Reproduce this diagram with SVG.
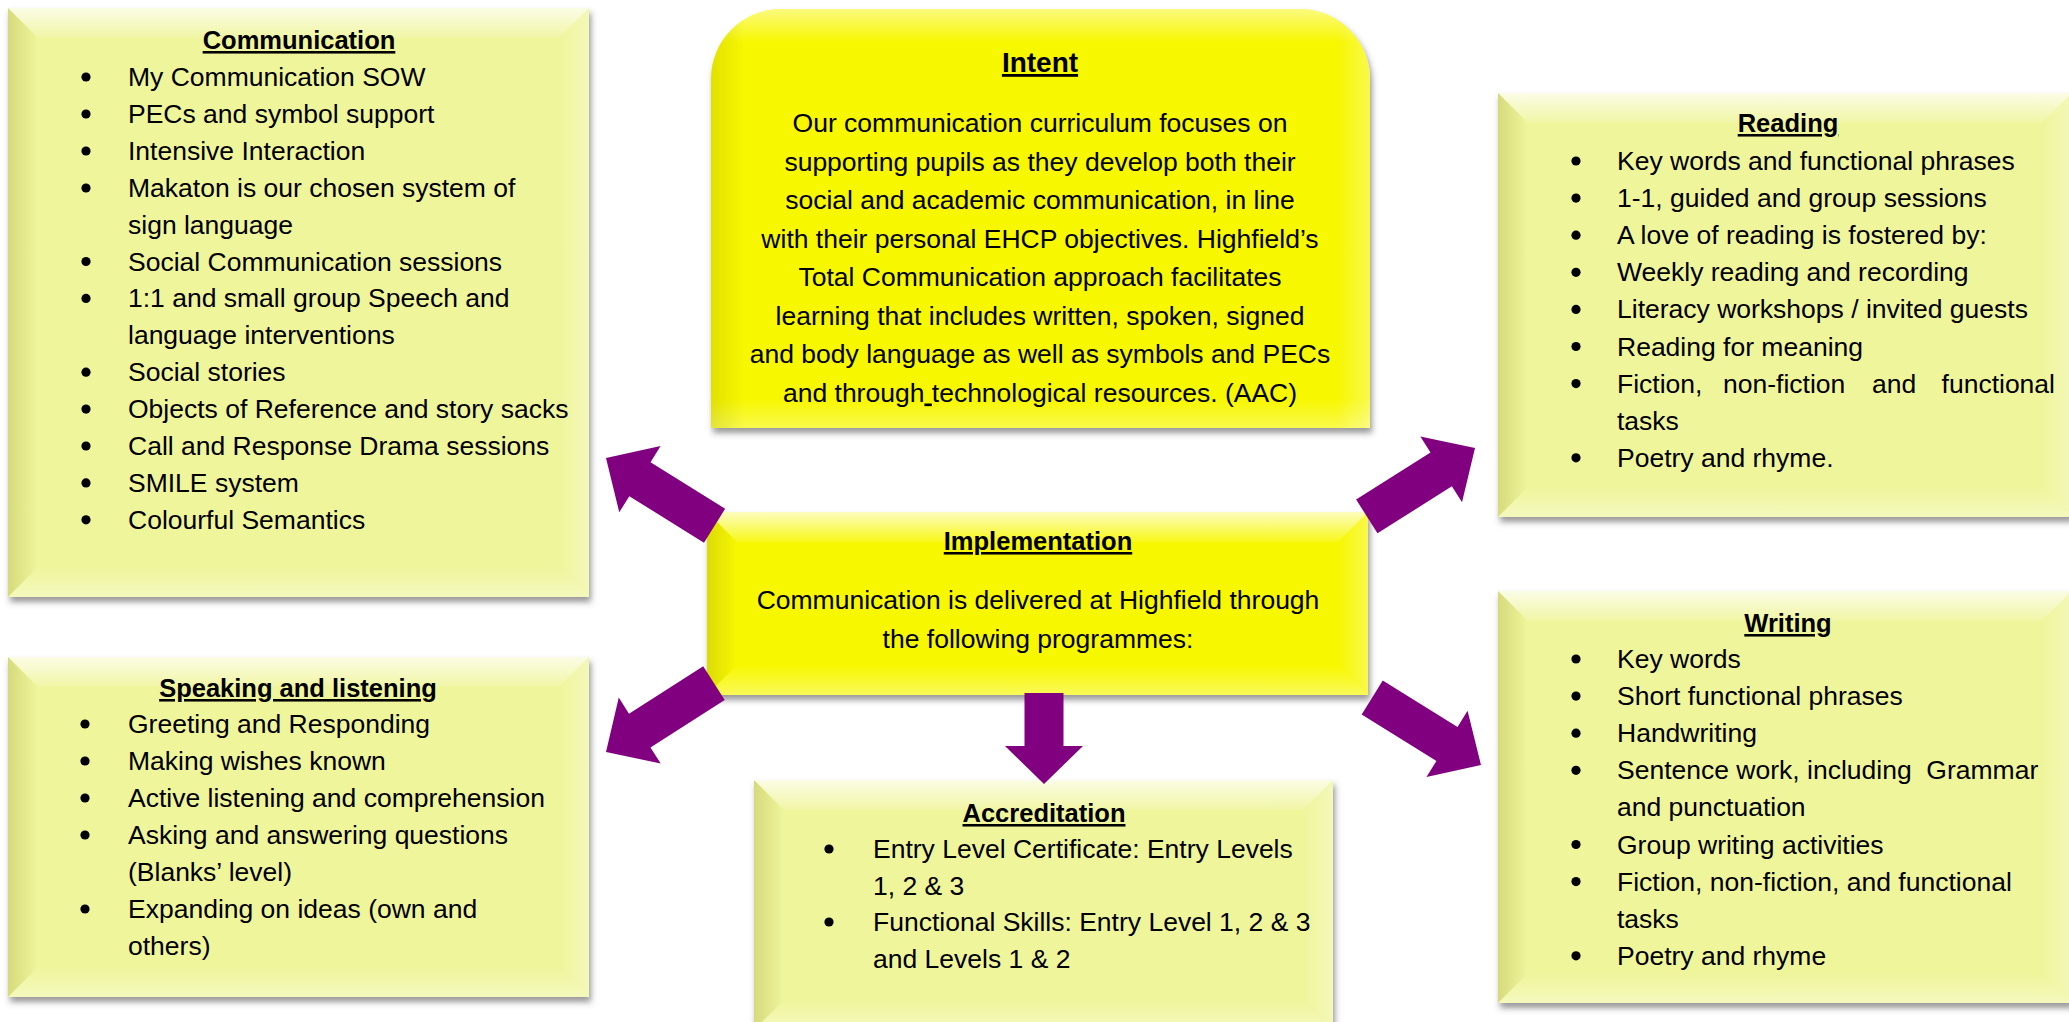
<svg xmlns="http://www.w3.org/2000/svg" width="2069" height="1022" viewBox="0 0 2069 1022">
<defs>
<style>
.t{font-family:"Liberation Sans",Arial,sans-serif;font-size:26.5px;fill:#000}
.h{font-weight:bold;font-size:25.5px;text-decoration:underline;text-anchor:middle}
.c{text-anchor:middle}
.dot{fill:#000}
.pale{fill:#eff59b}
.bright{fill:#f7f700}
.bt{fill:url(#gTop)}
.bl{fill:url(#gLeft)}
.bb{fill:url(#gBottom)}
.br{fill:url(#gRight)}
.arrow{fill:#800080}
</style>
<filter id="sh" x="-5%" y="-5%" width="110%" height="115%">
<feDropShadow dx="2" dy="5" stdDeviation="3" flood-color="#444" flood-opacity="0.55"/>
</filter>
<linearGradient id="gTop" x1="0" y1="0" x2="0" y2="1"><stop offset="0" stop-color="#fff" stop-opacity="0.75"/><stop offset="1" stop-color="#fff" stop-opacity="0.1"/></linearGradient>
<linearGradient id="gLeft" x1="0" y1="0" x2="1" y2="0"><stop offset="0" stop-color="#8a8a20" stop-opacity="0.25"/><stop offset="1" stop-color="#8a8a20" stop-opacity="0"/></linearGradient>
<linearGradient id="gBottom" x1="0" y1="1" x2="0" y2="0"><stop offset="0" stop-color="#fff" stop-opacity="0.35"/><stop offset="1" stop-color="#fff" stop-opacity="0"/></linearGradient>
<linearGradient id="gRight" x1="1" y1="0" x2="0" y2="0"><stop offset="0" stop-color="#fff" stop-opacity="0.3"/><stop offset="1" stop-color="#fff" stop-opacity="0"/></linearGradient>
<linearGradient id="gIntTop" x1="0" y1="0" x2="0" y2="1"><stop offset="0" stop-color="#fff" stop-opacity="0.5"/><stop offset="0.08" stop-color="#fff" stop-opacity="0"/><stop offset="0.93" stop-color="#fff" stop-opacity="0"/><stop offset="1" stop-color="#fff" stop-opacity="0.3"/></linearGradient>
<linearGradient id="gIntSide" x1="0" y1="0" x2="1" y2="0"><stop offset="0" stop-color="#8a8a00" stop-opacity="0.2"/><stop offset="0.05" stop-color="#8a8a00" stop-opacity="0"/><stop offset="0.95" stop-color="#fff" stop-opacity="0"/><stop offset="1" stop-color="#fff" stop-opacity="0.3"/></linearGradient>
<polygon id="diag" points="0,0 -40,-39 -40,-20 -128,-20 -128,20 -40,20 -40,39"/>
</defs>
<rect width="2069" height="1022" fill="#fff"/>

<g id="communication">
<rect class="pale" x="8" y="8" width="581" height="589" filter="url(#sh)"/>
<polygon class="bt" points="8,8 589,8 559,38 38,38"/>
<polygon class="bl" points="8,8 38,38 38,567 8,597"/>
<polygon class="bb" points="8,597 38,567 559,567 589,597"/>
<polygon class="br" points="589,8 589,597 559,567 559,38"/>
<g class="dot">
<circle cx="86" cy="77" r="4.6"/><circle cx="86" cy="114" r="4.6"/><circle cx="86" cy="151" r="4.6"/><circle cx="86" cy="188" r="4.6"/>
<circle cx="86" cy="261.5" r="4.6"/><circle cx="86" cy="298.4" r="4.6"/><circle cx="86" cy="372.2" r="4.6"/><circle cx="86" cy="409.1" r="4.6"/>
<circle cx="86" cy="446" r="4.6"/><circle cx="86" cy="482.9" r="4.6"/><circle cx="86" cy="519.8" r="4.6"/>
</g>
<g class="t">
<text class="h" x="299" y="49">Communication</text>
<text x="128" y="86">My Communication SOW</text>
<text x="128" y="123">PECs and symbol support</text>
<text x="128" y="160">Intensive Interaction</text>
<text x="128" y="197">Makaton is our chosen system of</text>
<text x="128" y="233.6">sign language</text>
<text x="128" y="270.5">Social Communication sessions</text>
<text x="128" y="307.4">1:1 and small group Speech and</text>
<text x="128" y="344.3">language interventions</text>
<text x="128" y="381.2">Social stories</text>
<text x="128" y="418.1">Objects of Reference and story sacks</text>
<text x="128" y="455">Call and Response Drama sessions</text>
<text x="128" y="491.9">SMILE system</text>
<text x="128" y="528.8">Colourful Semantics</text>
</g>
</g>

<g id="intent">
<path class="bright" d="M711,428 L711,79 A70,70 0 0 1 781,9 L1300,9 A70,70 0 0 1 1370,79 L1370,428 Z" filter="url(#sh)"/>
<path fill="url(#gIntTop)" d="M711,428 L711,79 A70,70 0 0 1 781,9 L1300,9 A70,70 0 0 1 1370,79 L1370,428 Z"/>
<path fill="url(#gIntSide)" d="M711,428 L711,79 A70,70 0 0 1 781,9 L1300,9 A70,70 0 0 1 1370,79 L1370,428 Z"/>
<g class="t c">
<text class="h" x="1040" y="72" style="font-size:28px">Intent</text>
<text x="1040" y="132">Our communication curriculum focuses on</text>
<text x="1040" y="170.5">supporting pupils as they develop both their</text>
<text x="1040" y="209">social and academic communication, in line</text>
<text x="1040" y="247.5">with their personal EHCP objectives. Highfield’s</text>
<text x="1040" y="286">Total Communication approach facilitates</text>
<text x="1040" y="324.5">learning that includes written, spoken, signed</text>
<text x="1040" y="363">and body language as well as symbols and PECs</text>
<text x="1040" y="401.5">and through<tspan text-decoration="underline"> </tspan>technological resources. (AAC)</text>
</g>
</g>

<g id="reading">
<rect class="pale" x="1498" y="93" width="574" height="424" filter="url(#sh)"/>
<polygon class="bt" points="1498,93 2072,93 2042,123 1528,123"/>
<polygon class="bl" points="1498,93 1528,123 1528,487 1498,517"/>
<polygon class="bb" points="1498,517 1528,487 2042,487 2072,517"/>
<polygon class="br" points="2072,93 2072,517 2042,487 2042,123"/>
<g class="dot">
<circle cx="1576" cy="161" r="4.6"/><circle cx="1576" cy="198.1" r="4.6"/><circle cx="1576" cy="235.2" r="4.6"/><circle cx="1576" cy="272.3" r="4.6"/>
<circle cx="1576" cy="309.4" r="4.6"/><circle cx="1576" cy="346.5" r="4.6"/><circle cx="1576" cy="383.6" r="4.6"/><circle cx="1576" cy="457.8" r="4.6"/>
</g>
<g class="t">
<text class="h" x="1788" y="132">Reading</text>
<text x="1617" y="170">Key words and functional phrases</text>
<text x="1617" y="207.1">1-1, guided and group sessions</text>
<text x="1617" y="244.2">A love of reading is fostered by:</text>
<text x="1617" y="281.3">Weekly reading and recording</text>
<text x="1617" y="318.4">Literacy workshops / invited guests</text>
<text x="1617" y="355.5">Reading for meaning</text>
<text x="1617" y="392.6">Fiction,</text><text x="1723" y="392.6">non-fiction</text><text x="1872" y="392.6">and</text><text x="2055" y="392.6" text-anchor="end">functional</text>
<text x="1617" y="429.7">tasks</text>
<text x="1617" y="466.8">Poetry and rhyme.</text>
</g>
</g>

<g id="implementation">
<rect class="bright" x="707" y="512" width="661" height="183" filter="url(#sh)"/>
<polygon class="bt" points="707,512 1368,512 1338,542 737,542"/>
<polygon class="bl" points="707,512 737,542 737,665 707,695"/>
<polygon class="bb" points="707,695 737,665 1338,665 1368,695"/>
<polygon class="br" points="1368,512 1368,695 1338,665 1338,542"/>
<g class="t c">
<text class="h" x="1038" y="550">Implementation</text>
<text x="1038" y="609">Communication is delivered at Highfield through</text>
<text x="1038" y="648">the following programmes:</text>
</g>
</g>

<g id="speaking-listening">
<rect class="pale" x="8" y="657" width="581" height="340" filter="url(#sh)"/>
<polygon class="bt" points="8,657 589,657 559,687 38,687"/>
<polygon class="bl" points="8,657 38,687 38,967 8,997"/>
<polygon class="bb" points="8,997 38,967 559,967 589,997"/>
<polygon class="br" points="589,657 589,997 559,967 559,687"/>
<g class="dot">
<circle cx="85" cy="724" r="4.6"/><circle cx="85" cy="761" r="4.6"/><circle cx="85" cy="798" r="4.6"/><circle cx="85" cy="835" r="4.6"/><circle cx="85" cy="909" r="4.6"/>
</g>
<g class="t">
<text class="h" x="298" y="697">Speaking and listening</text>
<text x="128" y="733">Greeting and Responding</text>
<text x="128" y="770">Making wishes known</text>
<text x="128" y="807">Active listening and comprehension</text>
<text x="128" y="844">Asking and answering questions</text>
<text x="128" y="881">(Blanks’ level)</text>
<text x="128" y="918">Expanding on ideas (own and</text>
<text x="128" y="955">others)</text>
</g>
</g>

<g id="accreditation">
<rect class="pale" x="754" y="780" width="579" height="250" filter="url(#sh)"/>
<polygon class="bt" points="754,780 1333,780 1303,810 784,810"/>
<polygon class="bl" points="754,780 784,810 784,1000 754,1030"/>
<polygon class="bb" points="754,1030 784,1000 1303,1000 1333,1030"/>
<polygon class="br" points="1333,780 1333,1030 1303,1000 1303,810"/>
<g class="dot">
<circle cx="829" cy="849" r="4.6"/><circle cx="829" cy="922" r="4.6"/>
</g>
<g class="t">
<text class="h" x="1044" y="822">Accreditation</text>
<text x="873" y="858">Entry Level Certificate: Entry Levels</text>
<text x="873" y="894.5">1, 2 &amp; 3</text>
<text x="873" y="931">Functional Skills: Entry Level 1, 2 &amp; 3</text>
<text x="873" y="967.5">and Levels 1 &amp; 2</text>
</g>
</g>

<g id="writing">
<rect class="pale" x="1498" y="591" width="574" height="412" filter="url(#sh)"/>
<polygon class="bt" points="1498,591 2072,591 2042,621 1528,621"/>
<polygon class="bl" points="1498,591 1528,621 1528,973 1498,1003"/>
<polygon class="bb" points="1498,1003 1528,973 2042,973 2072,1003"/>
<polygon class="br" points="2072,591 2072,1003 2042,973 2042,621"/>
<g class="dot">
<circle cx="1576" cy="659" r="4.6"/><circle cx="1576" cy="696.1" r="4.6"/><circle cx="1576" cy="733.2" r="4.6"/><circle cx="1576" cy="770.3" r="4.6"/>
<circle cx="1576" cy="844.5" r="4.6"/><circle cx="1576" cy="881.6" r="4.6"/><circle cx="1576" cy="955.8" r="4.6"/>
</g>
<g class="t">
<text class="h" x="1788" y="632">Writing</text>
<text x="1617" y="668">Key words</text>
<text x="1617" y="705.1">Short functional phrases</text>
<text x="1617" y="742.2">Handwriting</text>
<text x="1617" y="779.3" xml:space="preserve">Sentence work, including  Grammar</text>
<text x="1617" y="816.4">and punctuation</text>
<text x="1617" y="853.5">Group writing activities</text>
<text x="1617" y="890.6">Fiction, non-fiction, and functional</text>
<text x="1617" y="927.7">tasks</text>
<text x="1617" y="964.8">Poetry and rhyme</text>
</g>
</g>

<g id="connectors" class="arrow">
<use href="#diag" transform="translate(606,458) rotate(-148)"/>
<use href="#diag" transform="translate(1475,448) rotate(-32.3)"/>
<use href="#diag" transform="translate(606,752) rotate(147.5)"/>
<use href="#diag" transform="translate(1481,765) rotate(31.8)"/>
<polygon points="1044,784 1005,746 1024.5,746 1024.5,693 1063.5,693 1063.5,746 1083,746"/>
</g>
</svg>
